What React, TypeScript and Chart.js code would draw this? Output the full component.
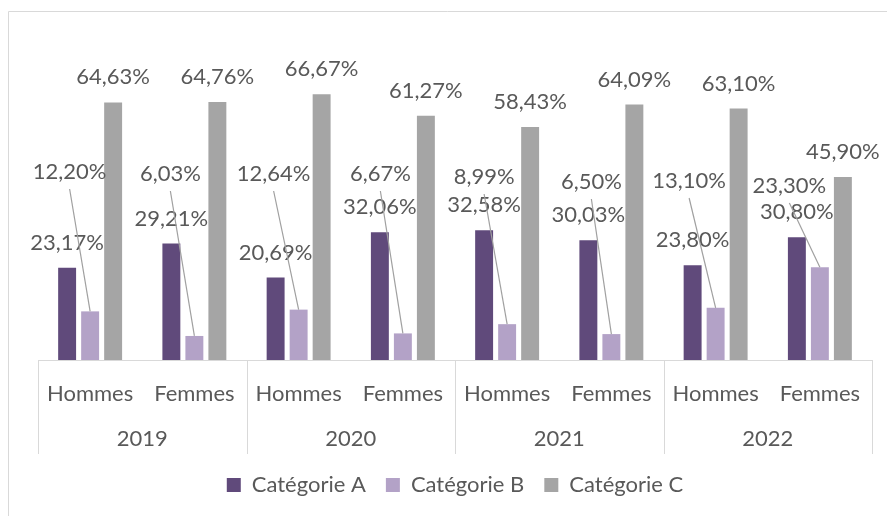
import React, { useEffect, useRef } from "react";
import { Chart, registerables } from "chart.js";

Chart.register(...registerables);

// ---- data ----
const categories = ["Hommes", "Femmes", "Hommes", "Femmes", "Hommes", "Femmes", "Hommes", "Femmes"];
const years = ["2019", "2020", "2021", "2022"];
const seriesNames = ["Catégorie A", "Catégorie B", "Catégorie C"];
const categorieA = [23.17, 29.21, 20.69, 32.06, 32.58, 30.03, 23.8, 30.8];
const categorieB = [12.2, 6.03, 12.64, 6.67, 8.99, 6.5, 13.1, 23.3];
const categorieC = [64.63, 64.76, 66.67, 61.27, 58.43, 64.09, 63.1, 45.9];

// ---- styling ----
const FONT = "Lato, Carlito, sans-serif";
const FONT_SIZE = 22;
const TEXT = "#595959";
const LINE = "#D9D9D9";
const COLORS = ["#604A7B", "#B3A2C7", "#A5A5A5"];
const LEADER = "#A0A0A0";

// moved labels of Catégorie B: [dx from bar centre, rise above baseline] in px
const B_LABEL_LAYOUT: number[][] = [
  [-20.5, 188], [-24, 186], [-25, 186], [-22.5, 186],
  [-23, 183], [-20, 178], [-26.5, 179], [-30.5, 174],
];

const fmt = (v: number) => v.toFixed(2).replace(".", ",") + "%";

const decor = {
  id: "decor",
  beforeDraw(chart: any) {
    const ctx = chart.ctx;
    ctx.save();
    ctx.strokeStyle = LINE;
    ctx.lineWidth = 1;
    ctx.beginPath();
    ctx.moveTo(8.5, chart.height);
    ctx.lineTo(8.5, 11.5);
    ctx.lineTo(chart.width, 11.5);
    ctx.stroke();
    ctx.restore();
  },
  afterDraw(chart: any) {
    const { ctx, chartArea, scales } = chart;
    const xs = scales.x;
    const half = (xs.getPixelForValue(1) - xs.getPixelForValue(0)) / 2;
    ctx.save();
    // year separators
    ctx.strokeStyle = LINE;
    ctx.lineWidth = 1;
    for (let i = 0; i <= years.length; i++) {
      const px = i < years.length ? xs.getPixelForValue(2 * i) - half : xs.getPixelForValue(2 * i - 1) + half;
      const xx = Math.round(px) + 0.5;
      ctx.beginPath();
      ctx.moveTo(xx, chartArea.bottom);
      ctx.lineTo(xx, chartArea.bottom + 94);
      ctx.stroke();
    }
    // year labels
    ctx.fillStyle = TEXT;
    ctx.font = `${FONT_SIZE}px ${FONT}`;
    ctx.textAlign = "center";
    ctx.textBaseline = "middle";
    years.forEach((y, i) => {
      const cx = (xs.getPixelForValue(2 * i) + xs.getPixelForValue(2 * i + 1)) / 2;
      ctx.fillText(y, cx, chartArea.bottom + 79);
    });
    // data labels
    chart.data.datasets.forEach((ds: any, di: number) => {
      const meta = chart.getDatasetMeta(di);
      meta.data.forEach((el: any, i: number) => {
        const v = ds.data[i];
        if (di === 1) {
          const [dx, rise] = B_LABEL_LAYOUT[i];
          const lx = el.x + dx;
          const ly = chartArea.bottom - rise;
          ctx.strokeStyle = LEADER;
          ctx.lineWidth = 1.2;
          ctx.beginPath();
          ctx.moveTo(lx, ly + 17);
          ctx.lineTo(el.x, el.y);
          ctx.stroke();
          ctx.fillStyle = TEXT;
          ctx.fillText(fmt(v), lx, ly);
        } else {
          ctx.fillStyle = TEXT;
          ctx.fillText(fmt(v), el.x, el.y - 25);
        }
      });
    });
    ctx.restore();
  },
};

export default function App() {
  const ref = useRef<HTMLCanvasElement | null>(null);
  useEffect(() => {
    document.body.style.margin = "0";
    const canvas = ref.current;
    if (!canvas) return;
    const chart = new Chart(canvas, {
      type: "bar",
      data: {
        labels: categories,
        datasets: [categorieA, categorieB, categorieC].map((d, i) => ({
          label: seriesNames[i],
          data: d,
          backgroundColor: COLORS[i],
          borderWidth: 0,
          categoryPercentage: 0.662,
          barPercentage: 0.78,
        })),
      },
      options: {
        responsive: false,
        animation: false,
        layout: { padding: { left: 38, right: 15, top: 81, bottom: 10 } },
        scales: {
          x: {
            grid: { display: false, drawTicks: false },
            border: { display: true, color: LINE, width: 1 },
            ticks: {
              color: TEXT,
              font: { family: FONT, size: FONT_SIZE },
              padding: 21,
              maxRotation: 0,
              autoSkip: false,
            },
            afterFit: (s: any) => {
              s.height = 94;
            },
          },
          y: { display: false, min: 0, max: 70 },
        },
        plugins: {
          legend: {
            position: "bottom",
            labels: {
              boxWidth: 14,
              boxHeight: 14,
              color: TEXT,
              font: { family: FONT, size: FONT_SIZE },
              padding: 20,
            },
          },
          tooltip: { enabled: false },
        },
      },
      plugins: [decor],
    });
    return () => chart.destroy();
  }, []);
  return <canvas ref={ref} width={887} height={516} style={{ display: "block" }} />;
}
